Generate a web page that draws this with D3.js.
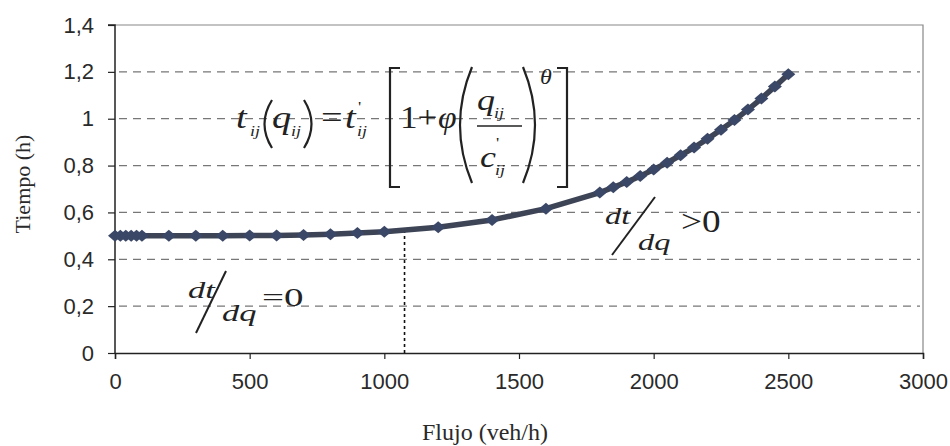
<!DOCTYPE html>
<html>
<head>
<meta charset="utf-8">
<script src="https://cdn.jsdelivr.net/npm/d3@7"></script>
<style>
  body { margin: 0; background: #fff; }
  svg { display: block; }
</style>
</head>
<body>
<div id="chart"></div>
<script>
// flujo (veh/h) and tiempo (h)
var flujo = [0, 20, 40, 60, 80, 100, 200, 300, 400, 500, 600, 700, 800, 900, 1000,
  1200, 1400, 1600, 1800, 1850, 1900, 1950, 2000, 2050, 2100, 2150, 2200, 2250,
  2300, 2350, 2400, 2450, 2500];
var tiempo = [0.5, 0.5, 0.5, 0.5, 0.5, 0.5, 0.5, 0.5, 0.5, 0.501, 0.502, 0.504, 0.507, 0.512, 0.518,
  0.537, 0.568, 0.616, 0.685, 0.707, 0.73, 0.755, 0.783, 0.812, 0.844, 0.877, 0.914, 0.953,
  0.994, 1.039, 1.086, 1.137, 1.19];
var xTicks = [0, 500, 1000, 1500, 2000, 2500, 3000];
var yTicks = [0, 0.2, 0.4, 0.6, 0.8, 1, 1.2, 1.4];
var yTickLabels = ["0", "0,2", "0,4", "0,6", "0,8", "1", "1,2", "1,4"];
var qLimite = 1075;   // dotted line
var tLimite = 0.52;

var width = 950, height = 446;
var svg = d3.select("#chart").append("svg")
  .attr("width", width)
  .attr("height", height);

var x = d3.scaleLinear().domain([0, 3000]).range([115, 923]);
var y = d3.scaleLinear().domain([0, 1.4]).range([353, 25]);

// grid
svg.append("g").selectAll("line")
  .data(yTicks.filter(d => d > 0 && d < 1.4))
  .enter().append("line")
  .attr("x1", x(0) + 4).attr("x2", x(3000) - 3)
  .attr("y1", d => y(d)).attr("y2", d => y(d))
  .attr("stroke", "#777")
  .attr("stroke-width", 1.2)
  .attr("stroke-dasharray", "8,6");

// top + right border
svg.append("path")
  .attr("d", `M${x(0)},${y(1.4)}H${x(3000)}V${y(0)}`)
  .attr("fill", "none")
  .attr("stroke", "#888")
  .attr("stroke-width", 1.2);

// axes
var xAxis = d3.axisBottom(x).tickValues(xTicks).tickFormat(d => d).tickSize(6).tickPadding(14);
var gx = svg.append("g").attr("transform", `translate(0,${y(0)})`).call(xAxis);
var yAxis = d3.axisLeft(y).tickValues(yTicks).tickFormat((d, i) => yTickLabels[i]).tickSize(7).tickPadding(14);
var gy = svg.append("g").attr("transform", `translate(${x(0)},0)`).call(yAxis);
[gx, gy].forEach(g => {
  g.select(".domain").attr("stroke", "#222").attr("stroke-width", 1.5);
  g.selectAll(".tick line").attr("stroke", "#222").attr("stroke-width", 1.2);
  g.selectAll(".tick text")
    .attr("fill", "#2a2a2a")
    .style("font-family", "'Liberation Sans', Arial, sans-serif")
    .style("font-size", "22px");
});
gy.select(".domain").attr("d", `M-7,${y(1.4)}H0V${y(0)}`);

// axis titles
svg.append("text")
  .attr("x", 485).attr("y", 440)
  .attr("text-anchor", "middle")
  .style("font-family", "'Liberation Serif', 'Times New Roman', serif")
  .style("font-size", "24px")
  .attr("fill", "#2a2a2a")
  .text("Flujo (veh/h)");
svg.append("text")
  .attr("transform", "translate(30,184) rotate(-90)")
  .attr("text-anchor", "middle")
  .style("font-family", "'Liberation Serif', 'Times New Roman', serif")
  .style("font-size", "22px")
  .attr("fill", "#2a2a2a")
  .text("Tiempo (h)");

// dotted line at the limit
svg.append("line")
  .attr("x1", x(qLimite)).attr("x2", x(qLimite))
  .attr("y1", y(0)).attr("y2", y(tLimite))
  .attr("stroke", "#111")
  .attr("stroke-width", 1.6)
  .attr("stroke-dasharray", "3,3");

// curve
var pts = flujo.map((q, i) => [q, tiempo[i]]);
var line = d3.line().x(d => x(d[0])).y(d => y(d[1]));
svg.append("path")
  .datum(pts)
  .attr("d", line)
  .attr("fill", "none")
  .attr("stroke", "#3d4455")
  .attr("stroke-width", 5.5)
  .attr("stroke-linejoin", "round");

svg.append("g").selectAll("path")
  .data(pts)
  .enter().append("path")
  .attr("transform", d => `translate(${x(d[0])},${y(d[1])})`)
  .attr("d", "M-7,0L0,-6L7,0L0,6Z")
  .attr("fill", "#3b4766");

// formula and annotations (the equation in the picture is stretched sideways)
var serif = "'Liberation Serif', 'Times New Roman', serif";
var ink = "#222";
function txt(tx, ty, s, size, italic, sx) {
  svg.append("text")
    .attr("transform", `translate(${tx},${ty}) scale(${sx || 1.2},1)`)
    .style("font-family", serif)
    .style("font-size", size + "px")
    .style("font-style", italic ? "italic" : "normal")
    .attr("fill", ink)
    .text(s);
}
function stroke(d, w) {
  svg.append("path").attr("d", d).attr("fill", "none")
    .attr("stroke", ink).attr("stroke-width", w || 2);
}

txt(236, 128, "t", 32, true);
txt(250, 136, "ij", 15, true);
stroke("M272,100Q257,124 272,148", 2.2);
txt(272, 128, "q", 32, true);
txt(291, 136, "ij", 15, true);
stroke("M304,100Q319,124 304,148", 2.2);
txt(321, 128, "=", 32, false);
txt(345, 128, "t", 32, true);
txt(358, 112, "'", 15, false);
txt(357, 136, "ij", 15, true);
stroke("M400,68H390V187H400", 2.2);
txt(400, 128, "1+", 32, false, 1.1);
txt(438, 128, "φ", 32, true, 1.05);
stroke("M472,67Q448,125 472,183", 2.2);
txt(477, 110, "q", 30, true);
txt(494, 118, "ij", 15, true);
stroke("M477,126H522", 1.6);
txt(480, 167, "c", 30, true);
txt(496, 148, "'", 15, false);
txt(495, 175, "ij", 15, true);
stroke("M523,67Q547,125 523,183", 2.2);
txt(540, 84, "θ", 20, true);
stroke("M557,68H567V187H557", 2.2);

// dt/dq = 0
txt(188, 298, "dt", 23, true, 1.5);
stroke("M196,333L226,271", 2);
txt(222, 321, "dq", 23, true, 1.5);
txt(262, 306, "=0", 26, false, 1.5);

// dt/dq > 0
txt(605, 224, "dt", 24, true, 1.35);
stroke("M612,255L655,197", 2);
txt(638, 250, "dq", 24, true, 1.35);
txt(681, 232, ">0", 31, false, 1.2);
</script>
</body>
</html>
